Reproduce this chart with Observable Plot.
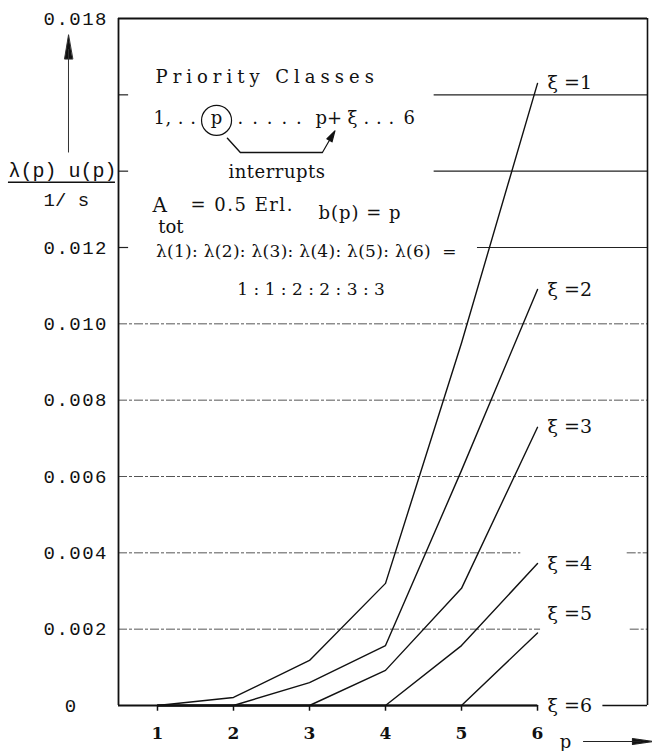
<!DOCTYPE html>
<html><head><meta charset="utf-8">
<script src="https://cdn.jsdelivr.net/npm/d3@7"></script>
<script src="https://cdn.jsdelivr.net/npm/@observablehq/plot@0.6"></script>
<style>body{margin:0;background:#fff} #chart svg{display:block}</style>
</head><body><div id="chart"></div>
<script>
// ---- data ----
const pValues = [1, 2, 3, 4, 5, 6];
const xi1 = [0, 0.00021, 0.00118, 0.0032, 0.0095, 0.0163];
const xi2 = [0, 0, 0.0006, 0.00157, 0.00616, 0.0109];
const xi3 = [0, 0, 0, 0.00092, 0.00307, 0.00729];
const xi4 = [0, 0, 0, 0, 0.00157, 0.00372];
const xi5 = [0, 0, 0, 0, 0, 0.0019];
const xi6 = [0, 0, 0, 0, 0, 0];
const seriesLabels = ["ξ =1", "ξ =2", "ξ =3", "ξ =4", "ξ =5", "ξ =6"];
const yTickValues = [0.002, 0.004, 0.006, 0.008, 0.010, 0.012, 0.018];
const yTickLabels = ["0.002", "0.004", "0.006", "0.008", "0.010", "0.012", "0.018"];
const xTickLabels = ["1", "2", "3", "4", "5", "6"];

const allSeries = [xi1, xi2, xi3, xi4, xi5, xi6];
const rows = allSeries.flatMap((vals, s) => vals.map((v, i) => ({p: pValues[i], v, s: seriesLabels[s]})));
const lastPts = allSeries.map((vals, s) => ({p: pValues[vals.length - 1], v: vals[vals.length - 1], s: seriesLabels[s]}));

const X0 = 0.487, X1 = 7.447;
const serif = "DejaVu Serif";
const mono = "Liberation Mono";

const filledArrow = (hl, hw) => ({
  draw(ctx, l) {
    ctx.moveTo(0, 0);
    ctx.lineTo(0, -l + hl * 0.6);
    ctx.moveTo(0, -l);
    ctx.lineTo(-hw / 2, -l + hl);
    ctx.lineTo(hw / 2, -l + hl);
    ctx.closePath();
  }
});

const grid = {stroke: "#555", strokeWidth: 1, strokeDasharray: "9,2,3,2"};
const solid = {stroke: "#222", strokeWidth: 1.2};
const ann = {textAnchor: "start", fontSize: 18, fill: "#111"};

const chart = Plot.plot({
  width: 652, height: 751,
  marginLeft: 118, marginRight: 5, marginTop: 18, marginBottom: 46,
  x: {type: "linear", domain: [X0, X1], axis: null},
  y: {type: "linear", domain: [0, 0.018], axis: null},
  style: {fontFamily: serif, background: "#fff", color: "#111"},
  marks: [
    // gridlines (interrupted where labels sit)
    Plot.ruleY([0.002], {x1: X0, x2: 6.04, ...grid}),
    Plot.ruleY([0.002], {x1: 7.22, x2: X1, ...grid}),
    Plot.ruleY([0.004], {x1: X0, x2: 5.78, ...grid}),
    Plot.ruleY([0.004], {x1: 7.18, x2: X1, ...grid}),
    Plot.ruleY([0.006, 0.008, 0.010], {x1: X0, x2: X1, ...grid}),
    Plot.ruleY([0.012, 0.014, 0.016], {x1: X0, x2: 0.62, ...solid}),
    Plot.ruleY([0.012], {x1: 5.21, x2: X1, ...solid}),
    Plot.ruleY([0.014, 0.016], {x1: 4.64, x2: X1, ...solid}),
    // frame
    Plot.ruleY([0.018], {stroke: "#111", strokeWidth: 1.8}),
    Plot.ruleX([X0], {stroke: "#111", strokeWidth: 1.8}),
    Plot.ruleX([X1], {stroke: "#111", strokeWidth: 1.6}),
    Plot.ruleY([0], {x1: X0, x2: 6, stroke: "#111", strokeWidth: 2}),
    Plot.ruleY([0], {x1: 6.86, x2: X1, stroke: "#111", strokeWidth: 1.6}),
    // x ticks + labels
    Plot.ruleX(pValues, {x: d => d, y1: 0, y2: -0.00015, stroke: "#111", strokeWidth: 1.5}),
    Plot.text(xTickLabels, {x: (d, i) => pValues[i], y: 0, text: d => d, dy: 28, fontSize: 17, fontWeight: "bold", fill: "#111"}),
    // y tick labels
    Plot.text(yTickLabels, {y: (d, i) => yTickValues[i], text: d => d, frameAnchor: "left", dx: -75, textAnchor: "start", fontFamily: mono, fontSize: 19, fill: "#111"}),
    Plot.text(["0"], {y: 0, text: d => d, frameAnchor: "left", dx: -48, textAnchor: "middle", fontFamily: mono, fontSize: 19, fill: "#111"}),
    // curves
    Plot.line(rows, {x: "p", y: "v", z: "s", stroke: "#111", strokeWidth: 1.4}),
    // series labels
    Plot.text(lastPts.filter(d => d.s !== "ξ =5"), {x: "p", y: "v", text: "s", dx: 10, textAnchor: "start", fontSize: 19, fill: "#111"}),
    Plot.text(lastPts.filter(d => d.s === "ξ =5"), {x: "p", y: "v", text: "s", dx: 10, dy: -19, textAnchor: "start", fontSize: 19, fill: "#111"}),
    // y axis title
    Plot.text(["λ(p) u(p)"], {x: -0.961, y: 0.01402, text: d => d, textAnchor: "start", fontFamily: mono, fontSize: 20, fill: "#111"}),
    Plot.ruleY([0.01371], {x1: -0.961, x2: 0.447, stroke: "#111", strokeWidth: 1.6}),
    Plot.text(["1/ s"], {x: -0.5, y: 0.01324, text: d => d, textAnchor: "start", fontFamily: mono, fontSize: 19, fill: "#111"}),
    Plot.vector([{x: -0.171, y: 0.0145}], {x: "x", y: "y", length: 117, rotate: 0, anchor: "start", shape: filledArrow(24, 8), stroke: "#333", strokeWidth: 1, fill: "#111"}),
    // x axis title
    Plot.text(["p"], {x: 6.368, y: 0, text: d => d, dy: 37, fontSize: 18, fill: "#111"}),
    Plot.vector([{x: 6.605, y: 0}], {x: "x", y: "y", dy: 36, length: 69, rotate: 90, anchor: "start", shape: filledArrow(20, 6), stroke: "#222", strokeWidth: 1.2, fill: "#111"}),
    // annotation block
    Plot.text(["Priority Classes"], {x: 0.974, y: 0.01646, text: d => d, ...ann}),
    Plot.text(["1, . ."], {x: 0.947, y: 0.01539, text: d => d, ...ann}),
    Plot.dot([{x: 1.777, y: 0.01533}], {x: "x", y: "y", r: 15, stroke: "#111", strokeWidth: 1.2, fill: "none"}),
    Plot.text(["p"], {x: 1.777, y: 0.01539, text: d => d, ...ann, textAnchor: "middle"}),
    Plot.text([". . . . ."], {x: 2.053, y: 0.01539, text: d => d, ...ann}),
    Plot.text(["p+"], {x: 3.079, y: 0.01539, text: d => d, ...ann}),
    Plot.text(["ξ"], {x: 3.5, y: 0.01539, text: d => d, ...ann}),
    Plot.text([". . ."], {x: 3.711, y: 0.01539, text: d => d, ...ann}),
    Plot.text(["6"], {x: 4.237, y: 0.01539, text: d => d, ...ann}),
    Plot.line([{x: 1.92, y: 0.01486}, {x: 2.09, y: 0.01449}, {x: 3.17, y: 0.01449}], {x: "x", y: "y", stroke: "#111", strokeWidth: 1.4}),
    Plot.vector([{x: 3.17, y: 0.01449}], {x: "x", y: "y", length: 25, rotate: 30, anchor: "start", shape: filledArrow(11, 6), stroke: "#111", strokeWidth: 1.2, fill: "#111"}),
    Plot.text(["interrupts"], {x: 1.934, y: 0.01397, text: d => d, ...ann}),
    Plot.text(["A"], {x: 0.934, y: 0.01310, text: d => d, ...ann, fontSize: 20}),
    Plot.text(["tot"], {x: 1.01, y: 0.01254, text: d => d, ...ann}),
    Plot.text(["= 0.5 Erl."], {x: 1.434, y: 0.01310, text: d => d, ...ann}),
    Plot.text(["b(p) = p"], {x: 3.118, y: 0.01290, text: d => d, ...ann}),
    Plot.text(["λ(1): λ(2): λ(3): λ(4): λ(5): λ(6)  ="], {x: 0.98, y: 0.01190, text: d => d, ...ann, fontSize: 17}),
    Plot.text(["1 : 1 : 2 : 2 : 3 : 3"], {x: 2.05, y: 0.01090, text: d => d, ...ann, fontSize: 17})
  ]
});

const spacing = new Map([
  ["Priority Classes", "5px"],
  ["1, . .", "0.5px"],
  [". . . . .", "1.6px"],
  [". . .", "0.5px"],
  ["interrupts", "0.5px"],
  ["= 0.5 Erl.", "1.5px"],
  ["b(p) = p", "1px"],
  ["λ(1): λ(2): λ(3): λ(4): λ(5): λ(6)  =", "0.3px"]
]);
yTickLabels.forEach(t => spacing.set(t, "1.5px"));
d3.select(chart).selectAll("text").each(function() {
  const s = spacing.get(this.textContent);
  if (s) this.setAttribute("letter-spacing", s);
});
document.getElementById("chart").appendChild(chart);
</script>
</body></html>
